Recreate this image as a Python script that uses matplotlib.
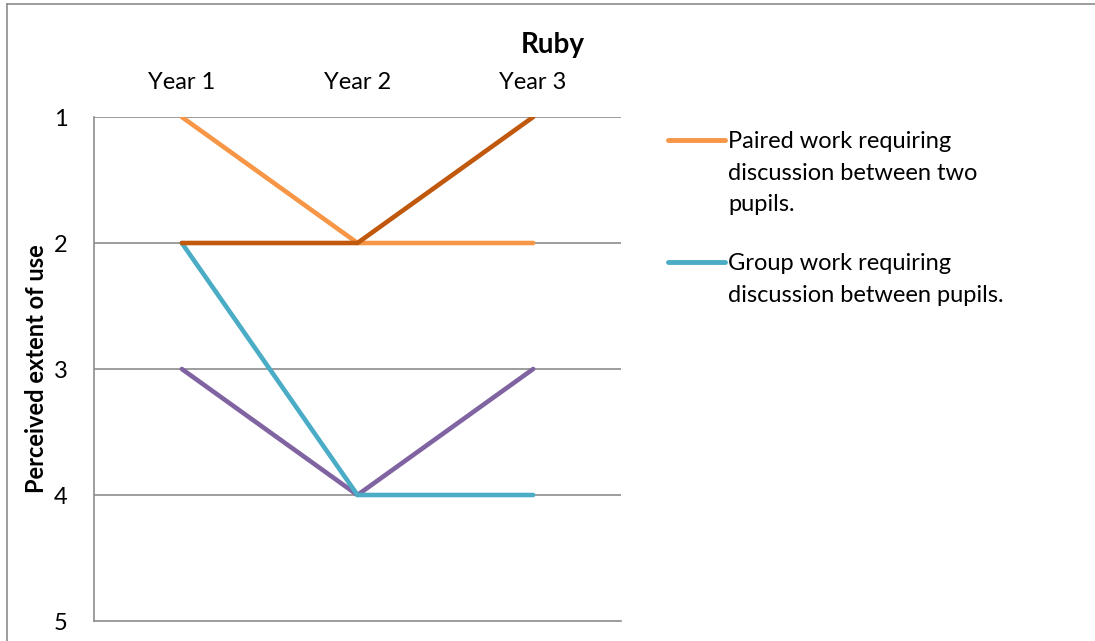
import matplotlib.pyplot as plt
from matplotlib.lines import Line2D

years = ['Year 1', 'Year 2', 'Year 3']
paired = [1, 2, 2]
paired_dark = [2, 2, 1]
group = [2, 4, 4]
purple = [3, 4, 3]

legend_labels = ['Paired work requiring\ndiscussion between two\npupils.',
                 'Group work requiring\ndiscussion between pupils.']
legend_colors = ['#F79646', '#4BACC6']

plt.rcParams['font.family'] = ['Lato', 'DejaVu Sans']

fig = plt.figure(figsize=(10.95, 6.41), dpi=100)
ax = fig.add_axes([94 / 1095, 1 - 621 / 641, 527 / 1095, 504 / 641])

x = range(len(years))
ax.plot(x, paired, color='#F79646', lw=3.3, solid_capstyle='round', zorder=3)
ax.plot(x, purple, color='#8064A2', lw=3.3, solid_capstyle='round', zorder=3)
ax.plot(x, group, color='#4BACC6', lw=3.3, solid_capstyle='round', zorder=4)
ax.plot(x, paired_dark, color='#C0580E', lw=3.3, solid_capstyle='round', zorder=5)

ax.set_xlim(-0.5, 2.5)
ax.set_ylim(5, 1)
ax.set_yticks([1, 2, 3, 4, 5])
ax.set_xticks(list(x))
ax.set_xticklabels(years)
ax.xaxis.tick_top()
ax.tick_params(axis='both', length=0, labelsize=17)
ax.tick_params(axis='x', pad=17)
ax.tick_params(axis='y', pad=19)
for v in [1, 2, 3, 4]:
    ax.axhline(v, color='#8c8c8c', lw=1.2, zorder=1)
for s in ['top', 'right']:
    ax.spines[s].set_visible(False)
for s in ['left', 'bottom']:
    ax.spines[s].set_color('#8c8c8c')
    ax.spines[s].set_linewidth(1.2)

ax.set_ylabel('Perceived extent of use', fontsize=17, fontweight='bold', labelpad=4)
fig.text(553 / 1095, 1 - 45 / 641, 'Ruby', fontsize=20, fontweight='bold',
         ha='center', va='center')

# legend drawn by hand so the key sits on the first line of wrapped text
for i, (lab, col) in enumerate(zip(legend_labels, legend_colors)):
    yy = 1 - (140 + i * 122) / 641
    fig.add_artist(Line2D([668 / 1095, 725 / 1095], [yy, yy],
                          transform=fig.transFigure, color=col, lw=3.5,
                          solid_capstyle='round'))
    fig.text(728 / 1095, yy + 9 / 641, lab, fontsize=17, ha='left', va='top',
             linespacing=1.62)

fig.add_artist(Line2D([7 / 1095, 1], [1 - 4 / 641, 1 - 4 / 641],
                      transform=fig.transFigure, color='#8c8c8c', lw=1.2))
fig.add_artist(Line2D([7 / 1095, 7 / 1095], [0, 1 - 4 / 641],
                      transform=fig.transFigure, color='#8c8c8c', lw=1.2))

fig.savefig('out.png', dpi=100)
